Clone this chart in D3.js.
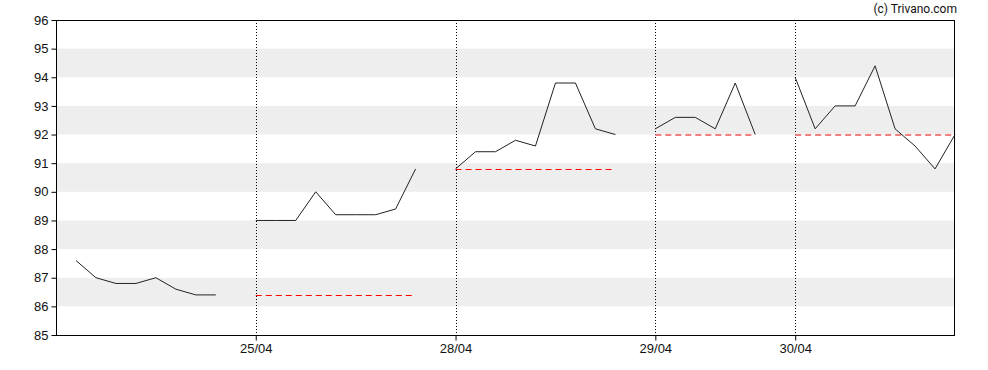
<!DOCTYPE html>
<html>
<head>
<meta charset="utf-8">
<script src="https://cdn.jsdelivr.net/npm/d3@7"></script>
<style>
  body { margin: 0; background: #fff; }
  svg { display: block; font-family: Roboto, Arial, sans-serif; }
</style>
</head>
<body>
<div id="chart"></div>
<script>
// slot index = position on the intraday time axis (20px per slot in the original)
const days = ["24/04", "25/04", "28/04", "29/04", "30/04"];
const dayStart = [0, 10, 20, 30, 37];
const slotMax = 45;

const prices24 = [87.6, 87.0, 86.8, 86.8, 87.0, 86.6, 86.4, 86.4];
const prices25 = [89.0, 89.0, 89.0, 90.0, 89.2, 89.2, 89.2, 89.4, 90.8];
const prices28 = [90.8, 91.4, 91.4, 91.8, 91.6, 93.8, 93.8, 92.2, 92.0];
const prices29 = [92.2, 92.6, 92.6, 92.2, 93.8, 92.0];
const prices30 = [94.0, 92.2, 93.0, 93.0, 94.4, 92.2, 91.6, 90.8, 92.0];
const firstSlot = [1, 10, 20, 30, 37];

// previous close reference per day (none for the first day)
const prevClose = [null, 86.4, 90.8, 92.0, 92.0];

const yTicks = [85, 86, 87, 88, 89, 90, 91, 92, 93, 94, 95, 96];
const bands = [[86, 87], [88, 89], [90, 91], [92, 93], [94, 95]];

const width = 988, height = 370;
const margin = {top: 20, right: 33, bottom: 35, left: 56};

const svg = d3.select("#chart").append("svg")
    .attr("width", width)
    .attr("height", height);

const x = d3.scaleLinear().domain([0, slotMax]).range([margin.left, width - margin.right]);
const y = d3.scaleLinear().domain([85, 96]).range([height - margin.bottom, margin.top]);

// shaded bands
svg.selectAll("rect.band")
    .data(bands)
    .enter()
    .append("rect")
    .attr("class", "band")
    .attr("x", x(0))
    .attr("width", x(slotMax) - x(0))
    .attr("y", d => y(d[1]))
    .attr("height", d => y(d[0]) - y(d[1]))
    .style("fill", "#eeeeee");

// day separators
svg.selectAll("line.sep")
    .data(dayStart.slice(1))
    .enter()
    .append("line")
    .attr("x1", d => Math.round(x(d)) + 0.5)
    .attr("x2", d => Math.round(x(d)) + 0.5)
    .attr("y1", y(96))
    .attr("y2", y(85))
    .style("stroke", "#000")
    .style("stroke-width", 1)
    .style("stroke-dasharray", "1,2");

const series = [prices24, prices25, prices28, prices29, prices30];

// previous close lines
series.forEach((vals, i) => {
    if (prevClose[i] == null) return;
    const x1 = x(firstSlot[i]);
    const x2 = x(firstSlot[i] + vals.length - 1);
    const light = i >= 3;
    svg.append("line")
        .attr("x1", x1).attr("x2", x2)
        .attr("y1", Math.round(y(prevClose[i])) + (light ? 0 : 0.5))
        .attr("y2", Math.round(y(prevClose[i])) + (light ? 0 : 0.5))
        .style("stroke", light ? "#f08080" : "#ff0000")
        .style("stroke-width", light ? 2 : 1)
        .style("stroke-dasharray", "6,4");
});

// price lines
const line = d3.line()
    .x(d => x(d[0]))
    .y(d => y(d[1]));

series.forEach((vals, i) => {
    svg.append("path")
        .datum(vals.map((v, j) => [firstSlot[i] + j, v]))
        .attr("d", line)
        .style("fill", "none")
        .style("stroke", "#222")
        .style("stroke-width", 1);
});

// frame
svg.append("rect")
    .attr("x", x(0) + 0.5)
    .attr("y", y(96) + 0.5)
    .attr("width", x(slotMax) - x(0) - 1)
    .attr("height", y(85) - y(96))
    .style("fill", "none")
    .style("stroke", "#000");

// y axis
const yAxis = d3.axisLeft(y).tickValues(yTicks).tickSize(5).tickPadding(3);
const gy = svg.append("g")
    .attr("transform", `translate(${x(0) + 0.5},0)`)
    .call(yAxis);
gy.select(".domain").remove();
gy.selectAll("text").style("font-size", "13px").style("fill", "#111");

// x axis
const xAxis = d3.axisBottom(x)
    .tickValues(dayStart.slice(1))
    .tickFormat((d, i) => days[i + 1])
    .tickSize(5)
    .tickPadding(3);
const gx = svg.append("g")
    .attr("transform", `translate(0,${y(85) + 0.5})`)
    .call(xAxis);
gx.select(".domain").remove();
gx.selectAll("text").style("font-size", "13px").style("fill", "#111");

// copyright
svg.append("text")
    .attr("x", x(slotMax) + 2)
    .attr("y", 13)
    .attr("text-anchor", "end")
    .style("font-size", "12px")
    .style("fill", "#111")
    .text("(c) Trivano.com");
</script>
</body>
</html>
